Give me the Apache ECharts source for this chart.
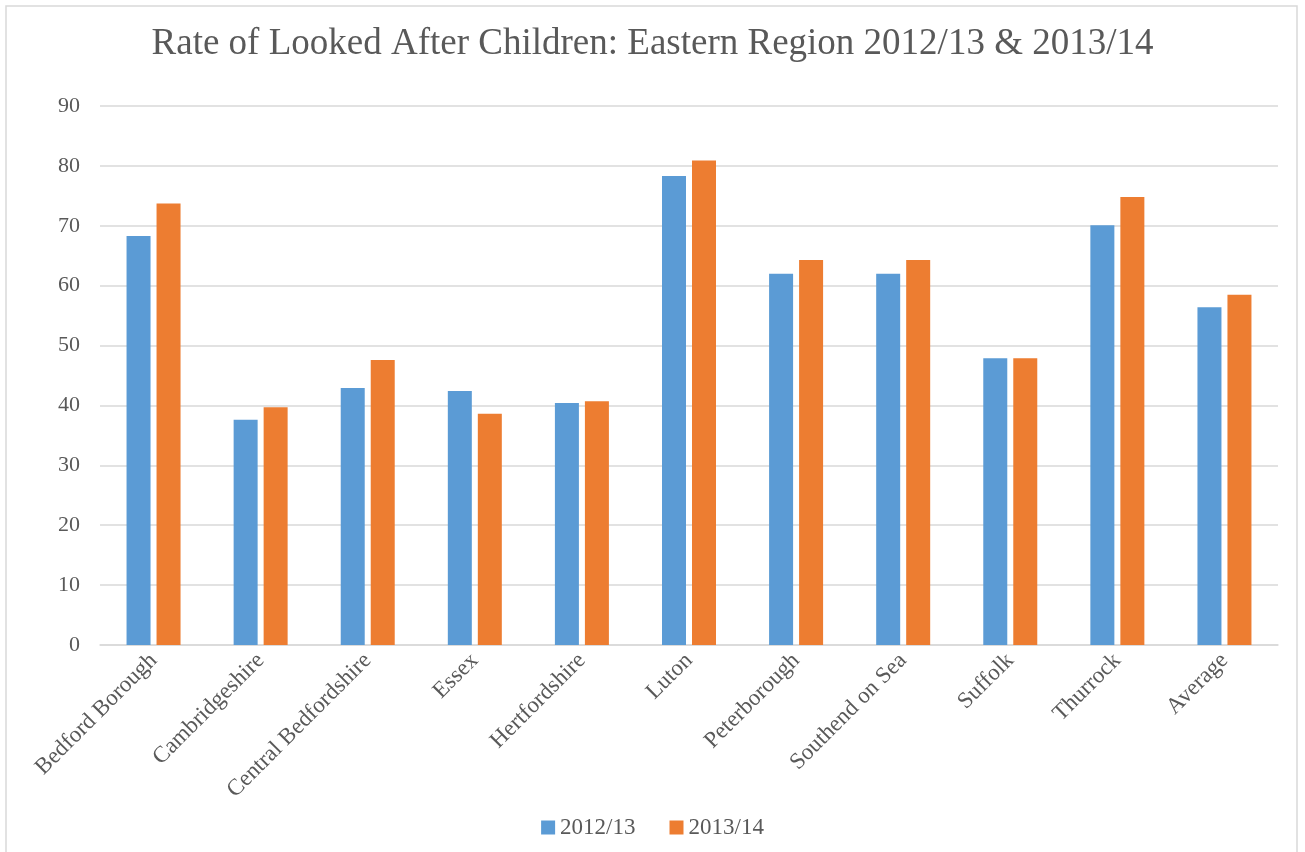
<!DOCTYPE html>
<html>
<head>
<meta charset="utf-8">
<script src="https://cdn.jsdelivr.net/npm/echarts@6/dist/echarts.min.js"></script>
<style>
  html, body { margin: 0; padding: 0; background: #fff; }
  #chart { width: 1305px; height: 852px; }
</style>
</head>
<body>
<div id="chart"></div>
<script>
const categories = ['Bedford Borough', 'Cambridgeshire', 'Central Bedfordshire', 'Essex', 'Hertfordshire',
  'Luton', 'Peterborough', 'Southend on Sea', 'Suffolk', 'Thurrock', 'Average'];
const rate2012 = [68.3, 37.6, 42.9, 42.4, 40.4, 78.3, 62.0, 62.0, 47.9, 70.1, 56.4];
const rate2013 = [73.7, 39.7, 47.6, 38.6, 40.7, 80.9, 64.3, 64.3, 47.9, 74.8, 58.5];
const seriesNames = ['2012/13', '2013/14'];

const font = '"Liberation Serif", "Times New Roman", serif';
const textColor = '#595959';

const chart = echarts.init(document.getElementById('chart'));
const option = {
  backgroundColor: '#fff',
  animation: false,
  color: ['#5B9BD5', '#ED7D31'],
  title: {
    text: 'Rate of Looked After Children: Eastern Region 2012/13 & 2013/14',
    left: 'center',
    top: 21,
    textStyle: { fontFamily: font, fontSize: 37, fontWeight: 'normal', color: textColor }
  },
  graphic: [{
    type: 'rect',
    shape: { x: 6, y: 6, width: 1291, height: 870 },
    style: { fill: 'none', stroke: '#d9d9d9', lineWidth: 1.5 },
    silent: true
  }],
  legend: {
    data: seriesNames,
    bottom: 8,
    left: 'center',
    itemWidth: 14,
    itemHeight: 14,
    itemGap: 34,
    icon: 'rect',
    textStyle: { fontFamily: font, fontSize: 23, color: textColor }
  },
  grid: { left: 100, right: 27, top: 106, bottom: 207 },
  xAxis: {
    type: 'category',
    data: categories,
    axisLine: { lineStyle: { color: '#d9d9d9', width: 1.5 } },
    axisTick: { show: false },
    axisLabel: {
      interval: 0,
      rotate: 45,
      margin: 12,
      fontFamily: font,
      fontSize: 23,
      color: textColor
    }
  },
  yAxis: {
    type: 'value',
    min: 0,
    max: 90,
    interval: 10,
    axisLine: { show: false },
    axisTick: { show: false },
    splitLine: { lineStyle: { color: '#d9d9d9', width: 1.5 } },
    axisLabel: { margin: 20, fontFamily: font, fontSize: 22, color: textColor }
  },
  series: [
    { name: seriesNames[0], type: 'bar', data: rate2012, barWidth: 24, barGap: '25%' },
    { name: seriesNames[1], type: 'bar', data: rate2013, barWidth: 24, barGap: '25%' }
  ]
};
chart.setOption(option);
</script>
</body>
</html>
